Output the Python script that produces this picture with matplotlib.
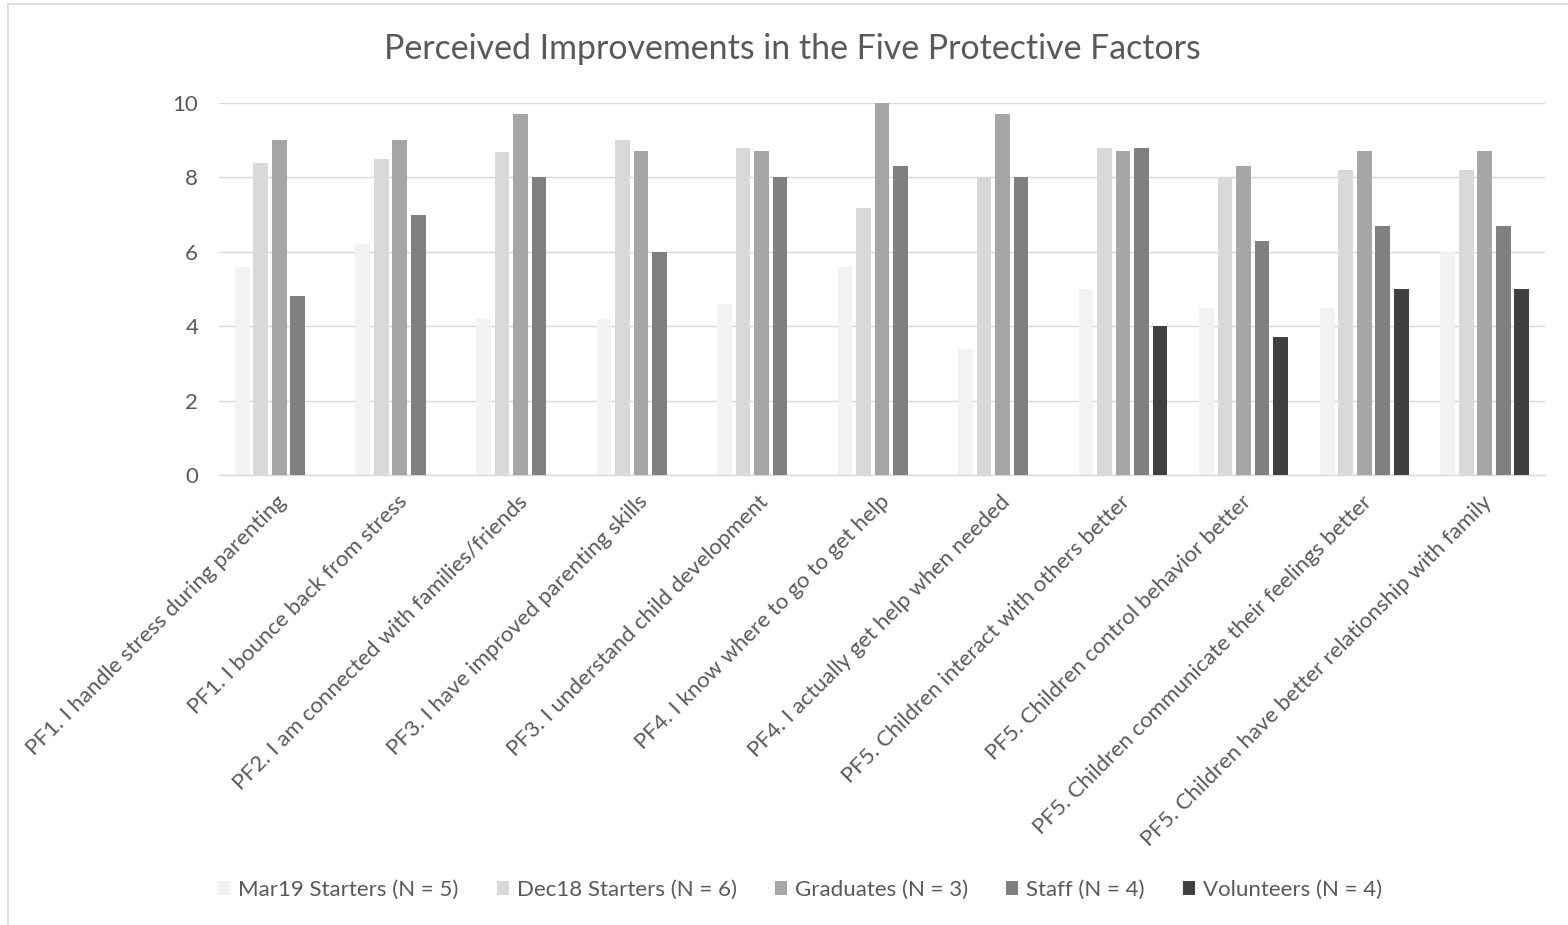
import numpy as np
import matplotlib
matplotlib.use("Agg")
import matplotlib.pyplot as plt
from matplotlib.lines import Line2D
from matplotlib.transforms import ScaledTranslation

categories = [
    "PF1. I handle stress during parenting",
    "PF1. I bounce back from stress",
    "PF2. I am connected with families/friends",
    "PF3. I have improved parenting skills",
    "PF3. I understand child development",
    "PF4. I know where to go to get help",
    "PF4. I actually get help when needed",
    "PF5. Children interact with others better",
    "PF5. Children control behavior better",
    "PF5. Children communicate their feelings better",
    "PF5. Children have better relationship with family",
]

series_names = [
    "Mar19 Starters (N = 5)",
    "Dec18 Starters (N = 6)",
    "Graduates (N = 3)",
    "Staff (N = 4)",
    "Volunteers (N = 4)",
]

mar19 = [5.6, 6.2, 4.2, 4.2, 4.6, 5.6, 3.4, 5.0, 4.5, 4.5, 6.0]
dec18 = [8.4, 8.5, 8.67, 9.0, 8.8, 7.17, 8.0, 8.8, 8.0, 8.2, 8.2]
graduates = [9.0, 9.0, 9.7, 8.7, 8.7, 10.0, 9.7, 8.7, 8.3, 8.7, 8.7]
staff = [4.8, 7.0, 8.0, 6.0, 8.0, 8.3, 8.0, 8.8, 6.3, 6.7, 6.7]
volunteers = [np.nan, np.nan, np.nan, np.nan, np.nan, np.nan, np.nan, 4.0, 3.7, 5.0, 5.0]

yticks = [0, 2, 4, 6, 8, 10]

colors = ["#F2F2F2", "#D9D9D9", "#A6A6A6", "#808080", "#404040"]
text_color = "#595959"
FONT = ["Lato", "DejaVu Sans"]
plt.rcParams["font.family"] = FONT

W, H = 1568, 925
fig = plt.figure(figsize=(W / 100, H / 100), dpi=100)
ax = fig.add_axes([219 / W, 1 - 475 / H, (1545 - 219) / W, (475 - 103) / H])

all_series = [mar19, dec18, graduates, staff, volunteers]
x = np.arange(len(categories))
step = 0.1535
bw = 0.122
for i, (vals, name, c) in enumerate(zip(all_series, series_names, colors)):
    ax.bar(x + (i - 2) * step, vals, width=bw, color=c, label=name, zorder=3)

ax.set_xlim(-0.5, len(categories) - 0.5)
ax.set_ylim(0, 10)
ax.set_yticks(yticks)
ax.set_yticklabels([str(t) for t in yticks])
ax.yaxis.grid(True, color="#D9D9D9", linewidth=1.0, zorder=0)
ax.set_axisbelow(True)
for s in ["top", "right", "left"]:
    ax.spines[s].set_visible(False)
ax.spines["bottom"].set_color("#D9D9D9")
ax.spines["bottom"].set_linewidth(1.0)
ax.tick_params(axis="y", length=0, pad=15, labelsize=16, labelcolor=text_color)
ax.tick_params(axis="x", length=0, pad=12, labelsize=16, labelcolor=text_color)

ax.set_xticks(x)
ax.set_xticklabels(categories, rotation=45, ha="right", va="top", rotation_mode="anchor")
offset = ScaledTranslation(-3 / 100, 0, fig.dpi_scale_trans)
for lbl in ax.get_xticklabels():
    lbl.set_transform(lbl.get_transform() + offset)

fig.text(792 / W, 1 - 49 / H, "Perceived Improvements in the Five Protective Factors",
         ha="center", va="center", fontsize=24.4, color=text_color)

leg = fig.legend(loc="center", bbox_to_anchor=(800 / W, 1 - 890 / H), ncol=5, frameon=False,
                 fontsize=16, handlelength=0.55, handleheight=0.55, handletextpad=0.35,
                 columnspacing=1.72, labelcolor=text_color)

# chart border (left and top edges visible)
fig.add_artist(Line2D([7.5 / W, 7.5 / W], [0, 1 - 3.5 / H], color="#D9D9D9", lw=1.2, transform=fig.transFigure))
fig.add_artist(Line2D([7.5 / W, 1], [1 - 3.5 / H, 1 - 3.5 / H], color="#D9D9D9", lw=1.2, transform=fig.transFigure))

fig.savefig("out.png", dpi=100, facecolor="white")
